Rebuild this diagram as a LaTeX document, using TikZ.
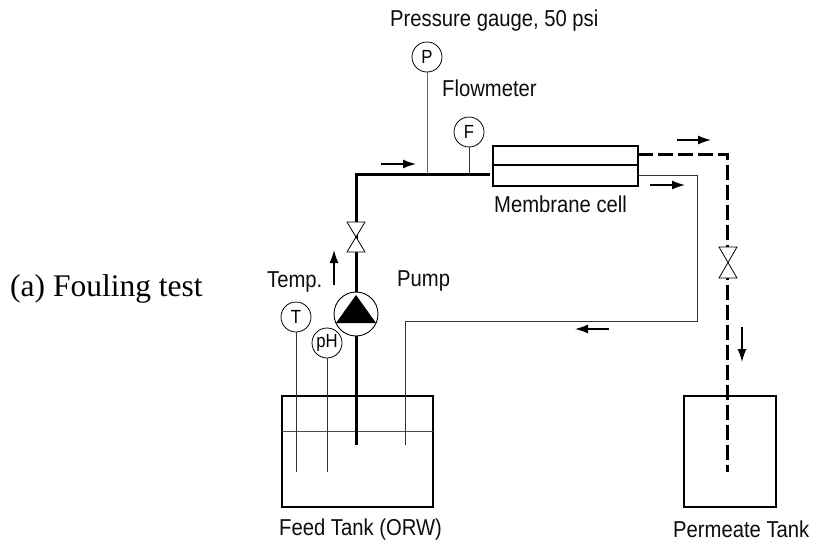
\documentclass[tikz,border=0pt]{standalone}
\usepackage{fontspec}
\setmainfont{Liberation Serif}
\setsansfont[FakeStretch=0.88]{Liberation Sans}
\usetikzlibrary{arrows.meta}
\tikzset{
  lbl/.style={inner sep=0pt,anchor=west,font=\sffamily\fontsize{23}{25}\selectfont,text=black!95},
  gauge/.style={circle,draw=black,line width=0.8pt,minimum size=30pt,inner sep=0pt,fill=white,font=\sffamily\fontsize{19}{20}\selectfont},
  tank/.style={draw=black,line width=2.1pt},
  thick pipe/.style={draw=black,line width=3pt},
  dash pipe/.style={draw=black,line width=3pt,dash pattern=on 15pt off 5pt},
  thin pipe/.style={draw=black!80,line width=0.8pt},
  flow/.style={draw=black,line width=1.4pt,-{Latex[length=13pt,width=9pt]}},
  valvepart/.style={draw=black,line width=0.8pt,fill=white},
}
\begin{document}
\begin{tikzpicture}[x=1pt,y=-1pt]
\useasboundingbox (0,0) rectangle (814,549);
% tanks
\draw[tank] (282,396) rectangle (433,507);
\draw[tank] (684,396) rectangle (776,507);
\draw[line width=0.6pt,draw=black!70] (282,431) -- (433,431);
% coordinates
\coordinate (corner) at (356,174);
\coordinate (pipeend) at (490,174);
\coordinate (feedin) at (356,445);
\coordinate (pjoin) at (427,174);
\coordinate (fjoin) at (469,174);
\coordinate (tend) at (296,472);
\coordinate (phend) at (327,472);
\coordinate (retA) at (639,175);
\coordinate (retB) at (697,175);
\coordinate (retC) at (697,321);
\coordinate (retD) at (405,321);
\coordinate (retE) at (405,445);
\coordinate (perA) at (638,154);
\coordinate (perB) at (727.5,154);
\coordinate (perEnd) at (727.5,472);
% membrane
\node[draw=black,line width=1.7pt,minimum width=145pt,minimum height=40pt,inner sep=0pt] (cell) at (565.5,166) {};
\coordinate (cellL) at (493,165);
\coordinate (cellR) at (638,165);
\draw[line width=1.2pt] (cellL) -- (cellR);
% pipes
\draw[thick pipe,line join=miter] (pipeend) -- (corner) -- (feedin);
\draw[thin pipe] (retA) -- (retB) -- (retC) -- (retD) -- (retE);
\draw[dash pipe] (perA) -- (perB) -- (perEnd);
% gauges
\node[gauge] (P) at (427,57) {P};
\node[gauge] (F) at (469,132) {F};
\node[gauge] (T) at (296,317) {T};
\node[gauge] (pH) at (327,343) {pH};
\draw[thin pipe,draw=black!60] (P) -- (pjoin);
\draw[thin pipe,line width=1pt] (F) -- (fjoin);
\draw[thin pipe] (T) -- (tend);
\draw[thin pipe] (pH) -- (phend);
% valves
\draw[valvepart] (347,222) -- (365,222) -- (347,252) -- (365,252) -- cycle;
\draw[valvepart] (719,247) -- (737,247) -- (719,278) -- (737,278) -- cycle;
% pump
\node[circle,draw=black,line width=0.9pt,fill=white,minimum size=44pt,inner sep=0pt] (pump) at (356,314) {};
\fill[black] (356,295) -- (376,323) -- (336,323) -- cycle;
% flow arrows
\coordinate (a1s) at (381,164); \coordinate (a1e) at (416,164);
\coordinate (a2s) at (334,285); \coordinate (a2e) at (334,250);
\coordinate (a3s) at (677,140); \coordinate (a3e) at (711,140);
\coordinate (a4s) at (650,185); \coordinate (a4e) at (685,185);
\coordinate (a5s) at (609,329); \coordinate (a5e) at (575,329);
\coordinate (a6s) at (742,327); \coordinate (a6e) at (742,362);
\draw[flow] (a1s) -- (a1e);
\draw[flow] (a2s) -- (a2e);
\draw[flow] (a3s) -- (a3e);
\draw[flow] (a4s) -- (a4e);
\draw[flow] (a5s) -- (a5e);
\draw[flow] (a6s) -- (a6e);
% labels
\node[lbl] (l1) at (390,21) {Pressure gauge, 50 psi};
\node[lbl] (l2) at (442,88) {Flowmeter};
\node[lbl] (l3) at (494,204) {Membrane cell};
\node[lbl] (l4) at (267,282) {Temp.};
\node[lbl] (l5) at (397,281) {Pump};
\node[lbl] (l6) at (279,530) {Feed Tank (ORW)};
\node[lbl] (l7) at (673,529) {Permeate Tank};
\node[inner sep=0pt,anchor=west,font=\rmfamily\fontsize{31.5}{33}\selectfont] (l8) at (10,289) {(a) Fouling test};
\end{tikzpicture}
\end{document}
